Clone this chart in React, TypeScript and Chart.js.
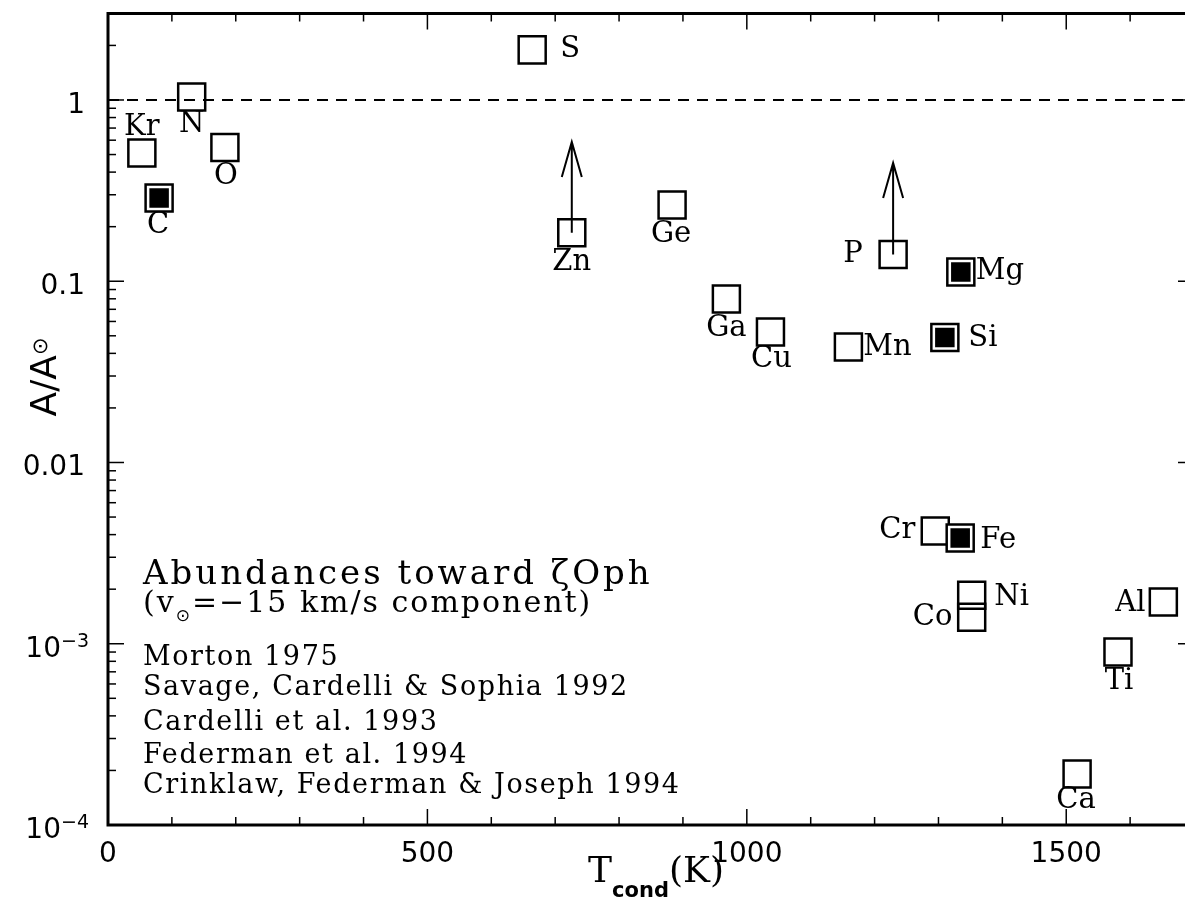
import React, { useEffect, useRef } from "react";
import { Chart, registerables } from "chart.js";

Chart.register(...registerables);

// ---------------- data ----------------
const elementNames = ["Kr", "N", "O", "C", "S", "Zn", "Ge", "Ga", "Cu", "Mn", "P", "Mg", "Si", "Cr", "Fe", "Ni", "Co", "Al", "Ti", "Ca"];
const condensationTemps = [53, 131, 183, 80, 664, 726, 883, 968, 1037, 1159, 1229, 1335, 1310, 1295, 1334, 1352, 1352, 1652, 1581, 1517];
const abundances = [0.51, 1.04, 0.547, 0.288, 1.89, 0.185, 0.263, 0.0798, 0.0525, 0.0434, 0.1405, 0.1125, 0.0489, 0.00419, 0.00383, 0.00185, 0.0014, 0.0017, 0.0009, 0.000191];
const filledElements = ["C", "Mg", "Si", "Fe"];
const limitElements = ["Zn", "P"];
const limitArrowTops = [0.587, 0.449];
const solarLevel = 1;

const xMajorTicks = [0, 500, 1000, 1500];
const xTickLabels = ["0", "500", "1000", "1500"];
const xMinorTicks = [100, 200, 300, 400, 600, 700, 800, 900, 1100, 1200, 1300, 1400, 1600];
const yMajorTicks = [1e-4, 1e-3, 0.01, 0.1, 1];
const yTickBase = ["10", "10", "0.01", "0.1", "1"];
const yTickExp = ["−4", "−3", "", "", ""];
const yMinorMultipliers = [2, 3, 4, 5, 6, 7, 8, 9];

const titleLine = "Abundances toward ζOph";
const subtitleParts = ["(v", "⊙", "=−15 km/s component)"];
const referenceLines = [
  "Morton 1975",
  "Savage, Cardelli & Sophia 1992",
  "Cardelli et al. 1993",
  "Federman et al. 1994",
  "Crinklaw, Federman & Joseph 1994",
];

// label placement relative to marker centre (pixels)
const labelOffsets: Record<string, [number, number]> = {
  Kr: [0, -26], N: [0, 28], O: [1, 29], C: [-1, 28], S: [38, 0], Zn: [0, 30],
  Ge: [-1, 29], Ga: [0, 29], Cu: [1, 28], Mn: [39, 1], P: [-40, 0], Mg: [39, 0],
  Si: [38, 1], Cr: [-38, 0], Fe: [38, 2], Ni: [40, 2], Co: [-39, 0], Al: [-33, 1],
  Ti: [1, 29], Ca: [-1, 26],
};

const SERIF = "'DejaVu Serif', serif";
const SANS = "'DejaVu Sans', sans-serif";

const decorPlugin = {
  id: "decor",
  afterDraw(chart: any) {
    const ctx: CanvasRenderingContext2D = chart.ctx;
    const xs = chart.scales.x;
    const ys = chart.scales.y;
    const { left, right, top, bottom } = chart.chartArea;
    ctx.save();
    ctx.strokeStyle = "#000";
    ctx.fillStyle = "#000";

    // ticks
    ctx.lineWidth = 1.5;
    const vline = (x: number, y1: number, y2: number) => {
      ctx.beginPath(); ctx.moveTo(x, y1); ctx.lineTo(x, y2); ctx.stroke();
    };
    const hline = (y: number, x1: number, x2: number) => {
      ctx.beginPath(); ctx.moveTo(x1, y); ctx.lineTo(x2, y); ctx.stroke();
    };
    xMajorTicks.forEach((v) => {
      const px = xs.getPixelForValue(v);
      vline(px, bottom, bottom - 16);
      vline(px, top, top + 16);
    });
    xMinorTicks.forEach((v) => {
      const px = xs.getPixelForValue(v);
      vline(px, bottom, bottom - 8);
      vline(px, top, top + 8);
    });
    yMajorTicks.forEach((v) => {
      const py = ys.getPixelForValue(v);
      hline(py, left, left + 16);
      hline(py, right, right - 16);
    });
    yMajorTicks.forEach((d) => {
      yMinorMultipliers.forEach((m) => {
        const v = d * m;
        if (v > 3.0001) return;
        const py = ys.getPixelForValue(v);
        hline(py, left, left + 8);
        hline(py, right, right - 8);
      });
    });

    // frame
    ctx.lineWidth = 3;
    ctx.strokeRect(left, top, right - left, bottom - top);

    // x tick labels
    ctx.font = `28px ${SANS}`;
    ctx.textAlign = "center";
    ctx.textBaseline = "alphabetic";
    xMajorTicks.forEach((v, i) => {
      ctx.fillText(xTickLabels[i], xs.getPixelForValue(v), bottom + 37);
    });

    // y tick labels
    yMajorTicks.forEach((v, i) => {
      const py = ys.getPixelForValue(v) + 13;
      const base = yTickBase[i];
      const exp = yTickExp[i];
      ctx.textAlign = "left";
      if (exp) {
        ctx.font = `19px ${SANS}`;
        const ew = ctx.measureText(exp).width;
        ctx.font = `28px ${SANS}`;
        const bw = ctx.measureText(base).width;
        const x0 = 89 - ew - bw;
        ctx.fillText(base, x0, py);
        ctx.font = `19px ${SANS}`;
        ctx.fillText(exp, x0 + bw, py - 10);
      } else {
        ctx.font = `28px ${SANS}`;
        const bw = ctx.measureText(base).width;
        ctx.fillText(base, 85 - bw, py);
      }
    });

    // y axis title
    ctx.save();
    ctx.translate(56, 377);
    ctx.rotate(-Math.PI / 2);
    ctx.font = `36px ${SANS}`;
    const aw = ctx.measureText("A/A").width;
    ctx.font = `21px ${SANS}`;
    const sw = ctx.measureText("⊙").width;
    const tot = aw + sw;
    ctx.textAlign = "left";
    ctx.font = `36px ${SANS}`;
    ctx.fillText("A/A", -tot / 2, 0);
    ctx.font = `21px ${SANS}`;
    ctx.fillText("⊙", -tot / 2 + aw, -9);
    ctx.restore();

    // x axis title
    ctx.textAlign = "left";
    ctx.font = `36px ${SERIF}`;
    const tW = ctx.measureText("T").width;
    const kW = ctx.measureText("(K)").width;
    ctx.font = `bold 21px ${SANS}`;
    const cW = ctx.measureText("cond").width;
    const xStart = 656 - (tW + cW + kW) / 2;
    ctx.font = `36px ${SERIF}`;
    ctx.fillText("T", xStart, 882);
    ctx.font = `bold 21px ${SANS}`;
    ctx.fillText("cond", xStart + tW, 897);
    ctx.font = `36px ${SERIF}`;
    ctx.fillText("(K)", xStart + tW + cW, 882);

    // limit arrows
    ctx.lineWidth = 2;
    limitElements.forEach((name, i) => {
      const idx = elementNames.indexOf(name);
      const px = xs.getPixelForValue(condensationTemps[idx]);
      const py0 = ys.getPixelForValue(abundances[idx]);
      const py1 = ys.getPixelForValue(limitArrowTops[i]);
      ctx.beginPath();
      ctx.moveTo(px, py0);
      ctx.lineTo(px, py1);
      ctx.moveTo(px - 10, py1 + 35);
      ctx.lineTo(px, py1);
      ctx.lineTo(px + 10, py1 + 35);
      ctx.stroke();
    });

    // element labels
    ctx.font = `29px ${SERIF}`;
    ctx.textAlign = "center";
    ctx.textBaseline = "middle";
    elementNames.forEach((name, i) => {
      const px = xs.getPixelForValue(condensationTemps[i]);
      const py = ys.getPixelForValue(abundances[i]);
      const [dx, dy] = labelOffsets[name];
      ctx.fillText(name, px + dx, py + dy);
    });

    // text block
    ctx.textAlign = "left";
    ctx.textBaseline = "alphabetic";
    (ctx as any).letterSpacing = "3px";
    ctx.font = `34px ${SERIF}`;
    ctx.fillText(titleLine, 143, 584);

    (ctx as any).letterSpacing = "2px";
    ctx.font = `30px ${SERIF}`;
    let sx = 143;
    ctx.fillText(subtitleParts[0], sx, 612);
    sx += ctx.measureText(subtitleParts[0]).width;
    ctx.font = `17px ${SANS}`;
    ctx.fillText(subtitleParts[1], sx, 621);
    sx += ctx.measureText(subtitleParts[1]).width;
    ctx.font = `30px ${SERIF}`;
    ctx.fillText(subtitleParts[2], sx, 612);

    (ctx as any).letterSpacing = "1.6px";
    ctx.font = `27px ${SERIF}`;
    const baselines = [665, 695, 730, 763, 793];
    referenceLines.forEach((t, i) => ctx.fillText(t, 143, baselines[i]));
    (ctx as any).letterSpacing = "0px";

    ctx.restore();
  },
};

export default function App() {
  const ref = useRef<HTMLCanvasElement | null>(null);

  useEffect(() => {
    if (!ref.current) return;
    const openPts: { x: number; y: number }[] = [];
    const filledPts: { x: number; y: number }[] = [];
    elementNames.forEach((n, i) => {
      const p = { x: condensationTemps[i], y: abundances[i] };
      if (filledElements.includes(n)) filledPts.push(p);
      else openPts.push(p);
    });

    const chart = new Chart(ref.current, {
      type: "scatter",
      data: {
        datasets: [
          {
            data: filledPts,
            pointStyle: "rect",
            pointRadius: 13.8,
            borderWidth: 0,
            backgroundColor: "#000",
            borderColor: "#000",
            order: 0,
          } as any,
          {
            data: filledPts,
            pointStyle: "rect",
            pointRadius: 19.1,
            borderWidth: 2.5,
            backgroundColor: "#fff",
            borderColor: "#000",
            order: 1,
          } as any,
          {
            data: openPts,
            pointStyle: "rect",
            pointRadius: 19.1,
            borderWidth: 2.5,
            backgroundColor: "rgba(0,0,0,0)",
            borderColor: "#000",
            order: 2,
          } as any,
          {
            type: "line",
            data: [
              { x: 0, y: solarLevel },
              { x: 1700, y: solarLevel },
            ],
            borderColor: "#000",
            borderWidth: 2,
            borderDash: [11, 8],
            pointRadius: 0,
            showLine: true,
            order: 3,
          } as any,
        ],
      },
      options: {
        animation: false,
        responsive: false,
        maintainAspectRatio: false,
        events: [],
        layout: { autoPadding: false, padding: { top: 13.5, right: 16, left: 0, bottom: 0 } },
        plugins: {
          legend: { display: false },
          tooltip: { enabled: false },
          title: { display: false },
        },
        scales: {
          x: {
            type: "linear",
            min: 0,
            max: 1700,
            ticks: { display: false },
            grid: { display: false, drawTicks: false },
            border: { display: false },
            afterFit: (s: any) => { s.height = 80; },
          },
          y: {
            type: "logarithmic",
            min: 1e-4,
            max: 3,
            ticks: { display: false },
            grid: { display: false, drawTicks: false },
            border: { display: false },
            afterFit: (s: any) => { s.width = 108; },
          },
        },
      } as any,
      plugins: [decorPlugin],
    });
    return () => chart.destroy();
  }, []);

  return (
    <div style={{ position: "absolute", left: 0, top: 0, width: 1185, height: 905, overflow: "hidden", background: "#fff" }}>
      <canvas ref={ref} width={1210} height={905} style={{ display: "block" }} />
    </div>
  );
}
